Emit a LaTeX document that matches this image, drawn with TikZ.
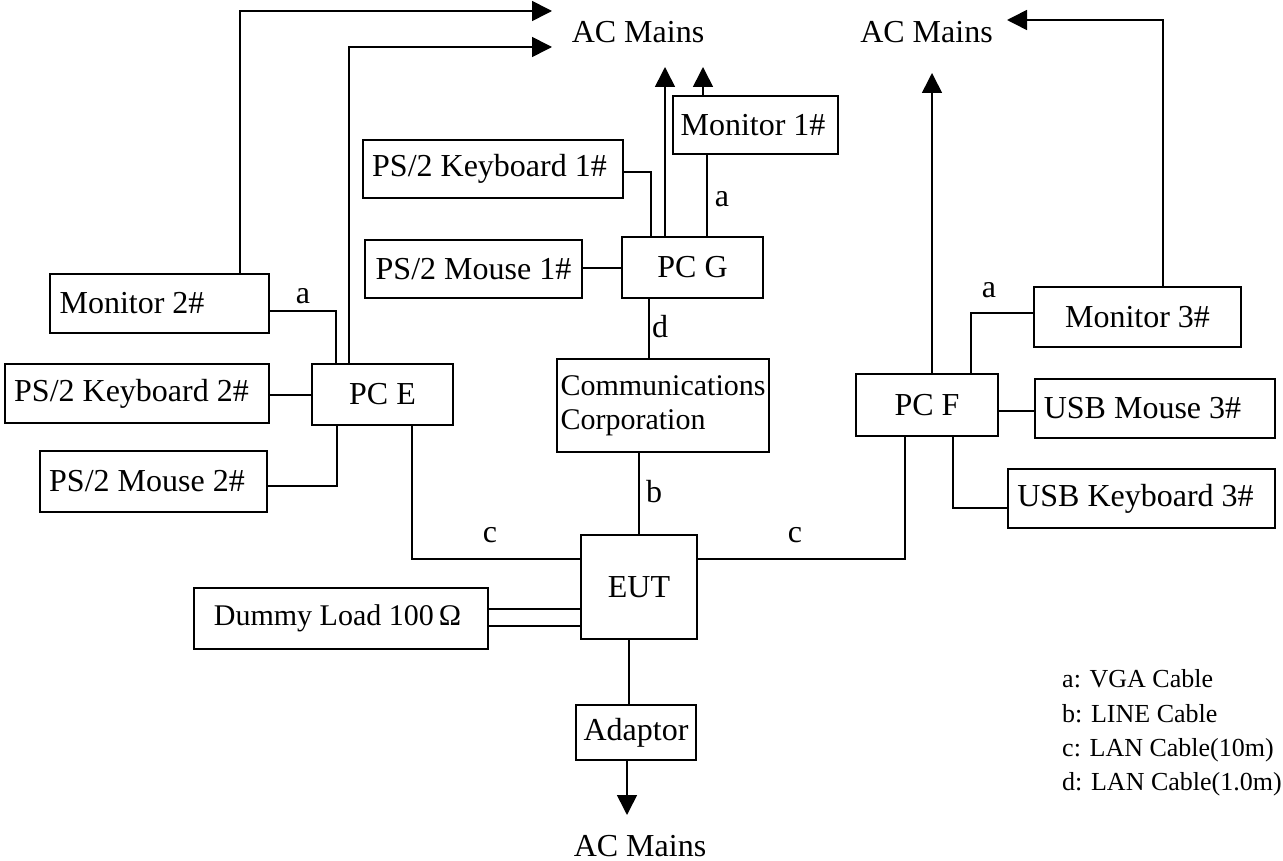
\documentclass[tikz,border=0pt]{standalone}
\usepackage{fontspec}
\setmainfont{Liberation Serif}
\usetikzlibrary{arrows.meta}
\tikzset{
  box/.style={draw, line width=1.6pt, inner sep=0pt, outer sep=0pt, font=\fontsize{32}{35}\selectfont},
  wire/.style={line width=1.6pt},
  arr/.style={wire, -{Triangle[length=20pt,width=20pt]}},
  lbl/.style={font=\fontsize{32}{35}\selectfont, anchor=base, inner sep=0pt},
  leg/.style={font=\fontsize{26}{29}\selectfont, anchor=base west, inner sep=0pt},
}
\newcommand\padr[1]{\rule{#1}{0pt}}
\newcommand\bx[7][]{%
  \pgfmathsetmacro\bxw{#5-#3}\pgfmathsetmacro\bxh{#6-#4}%
  \pgfmathsetmacro\bxcx{(#3+#5)/2}\pgfmathsetmacro\bxcy{(#4+#6)/2}%
  \node[box, minimum width=\bxw pt, minimum height=\bxh pt, #1] (#2) at (\bxcx,\bxcy) {#7};}
\begin{document}
\begin{tikzpicture}[x=1pt,y=-1pt]
\useasboundingbox (0,0) rectangle (1283,861);
% boxes
\bx{mon2}{50}{274}{269}{333}{Monitor 2\#\padr{55pt}}
\bx{kb2}{5}{364}{269}{423}{PS/2 Keyboard 2\#\padr{11pt}}
\bx{pcE}{312}{364}{453}{425}{PC E}
\bx{ms2}{40}{451}{267}{512}{PS/2 Mouse 2\#\padr{13pt}}
\bx{kb1}{363}{140}{623}{198}{PS/2 Keyboard 1\#\padr{7pt}}
\bx{ms1}{365}{240}{582}{298}{PS/2 Mouse 1\#}
\bx{mon1}{673}{96}{838}{154}{Monitor 1\#\padr{5pt}}
\bx{pcG}{622}{237}{763}{298}{PC G}
\bx[align=left, font=\fontsize{30}{34}\selectfont]{comm}{557}{359}{769}{452}{Communications\\Corporation}
\bx{eut}{581}{535}{697}{639}{EUT}
\bx[font=\fontsize{30}{33}\selectfont]{dummy}{194}{588}{488}{649}{Dummy Load 100\,Ω\padr{7pt}}
\bx{adp}{576}{705}{696}{760}{Adaptor}
\bx{pcF}{856}{374}{998}{436}{PC F}
\bx{mon3}{1034}{287}{1241}{347}{Monitor 3\#}
\bx{usbms}{1035}{379}{1275}{438}{USB Mouse 3\#\padr{25pt}}
\bx{usbkb}{1008}{469}{1275}{528}{USB Keyboard 3\#\padr{12pt}}
% AC mains labels
\node[lbl] (acT) at (638,43) {AC Mains};
\node[lbl] (acR) at (926.5,43) {AC Mains};
\node[lbl] (acB) at (640,856) {AC Mains};
% arrow targets
\coordinate (tL1) at (552,11);
\coordinate (tL2) at (552,47);
\coordinate (tG1) at (665,67);
\coordinate (tG2) at (703,67);
\coordinate (tF1) at (932,73);
\coordinate (tF2) at (1007,20);
\coordinate (tB) at (627,815);
% PC E wiring
\draw[wire] (mon2.east |- 0,311) -| (336,0 |- pcE.north);
\draw[arr] (240,0 |- mon2.north) |- (tL1);
\draw[arr] (349,0 |- pcE.north) |- (tL2);
\draw[wire] (kb2.east |- 0,395) -- (pcE.west |- 0,395);
\draw[wire] (ms2.east |- 0,486) -| (337,0 |- pcE.south);
\draw[wire] (412,0 |- pcE.south) |- (eut.west |- 0,559);
% PC G wiring
\draw[wire] (ms1.east |- 0,268) -- (pcG.west |- 0,268);
\draw[wire] (kb1.east |- 0,172) -| (651,0 |- pcG.north);
\draw[arr] (665,0 |- pcG.north) -- (tG1);
\draw[arr] (703,0 |- mon1.north) -- (tG2);
\draw[wire] (707,0 |- mon1.south) -- (707,0 |- pcG.north);
\draw[wire] (649,0 |- pcG.south) -- (649,0 |- comm.north);
\draw[wire] (639,0 |- comm.south) -- (639,0 |- eut.north);
% PC F wiring
\draw[arr] (932,0 |- pcF.north) -- (tF1);
\draw[arr] (1163,0 |- mon3.north) |- (tF2);
\draw[wire] (mon3.west |- 0,313) -| (971,0 |- pcF.north);
\draw[wire] (pcF.east |- 0,411) -- (usbms.west |- 0,411);
\draw[wire] (953,0 |- pcF.south) |- (usbkb.west |- 0,508);
\draw[wire] (905,0 |- pcF.south) |- (eut.east |- 0,559);
% EUT wiring
\draw[wire] (dummy.east |- 0,609) -- (eut.west |- 0,609);
\draw[wire] (dummy.east |- 0,626) -- (eut.west |- 0,626);
\draw[wire] (629,0 |- eut.south) -- (629,0 |- adp.north);
\draw[arr] (627,0 |- adp.south) -- (tB);
% cable labels
\node[lbl] (la1) at (303,303) {a};
\node[lbl] (la2) at (722,207) {a};
\node[lbl] (la3) at (989,298) {a};
\node[lbl] (ld) at (660,337) {d};
\node[lbl] (lb) at (654,502) {b};
\node[lbl] (lc1) at (490,542) {c};
\node[lbl] (lc2) at (795,542) {c};
% legend
\node[leg] (g1) at (1062,687) {a: VGA Cable};
\node[leg] (g2) at (1062,722) {b: LINE Cable};
\node[leg] (g3) at (1062,756) {c: LAN Cable(10m)};
\node[leg] (g4) at (1062,790) {d: LAN Cable(1.0m)};
\end{tikzpicture}
\end{document}
